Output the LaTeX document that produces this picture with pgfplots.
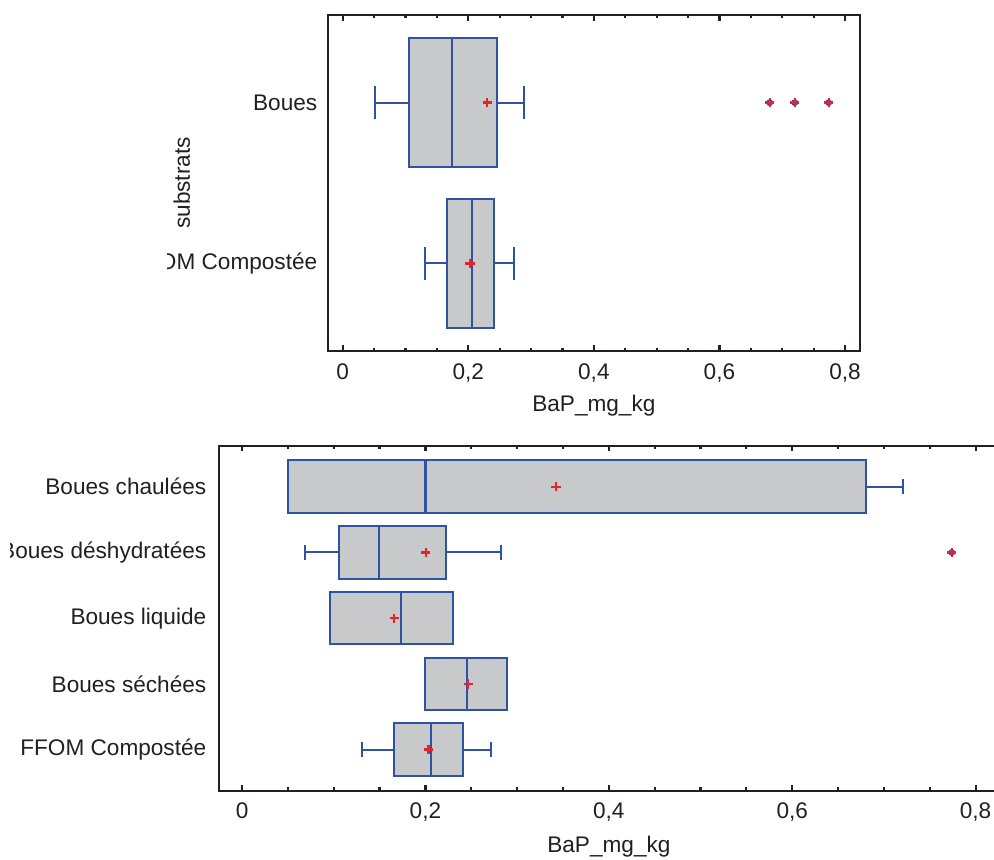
\documentclass[border=0pt]{standalone}
\usepackage{fontspec}
\setmainfont{Liberation Sans}
\usepackage{pgfplots}
\pgfplotsset{compat=1.18}
\usepgfplotslibrary{statistics}
\definecolor{bblue}{HTML}{2E53A4}
\definecolor{bgray}{HTML}{C8C9CB}
\definecolor{mred}{HTML}{E8222A}
\definecolor{frame}{HTML}{231F20}
\newcommand{\lblfont}{\fontsize{11.3}{13.5}\selectfont}
\pgfplotsset{
  mystyle/.style={
    scale only axis,
    axis line style={frame, line width=1.1pt},
    tick style={frame, line width=1.1pt},
    major tick length=2.8pt, minor tick length=1.7pt,
    tick align=inside,
    xtick={0,0.2,0.4,0.6,0.8}, minor x tick num=3,
    ytick style={draw=none}, minor y tick num=0,
    xticklabel style={yshift=-2.7pt},
    /pgf/number format/.cd, use comma, fixed, precision=1, assume math mode=true, /pgfplots/.cd,
    tick label style={font=\lblfont, text=frame},
    xlabel={BaP\_mg\_kg},
    every axis x label/.style={at={(axis description cs:0.5,0)}, yshift=-27.5pt, anchor=center, font=\lblfont, text=frame},
    boxplot/draw direction=x,
    boxplot/every box/.style={draw=bblue, fill=bgray, line width=1pt},
    boxplot/every whisker/.style={draw=bblue, line width=1pt},
    boxplot/every median/.style={draw=bblue, line width=1.1pt},
  },
  outl/.style={line width=1pt, draw=bblue, mark=*, mark size=1.5pt, mark options={draw=bblue, fill=bblue, line width=0.4pt}},
  means/.style={only marks, mark=+, mark size=2.3pt, mark options={draw=mred, line width=1.15pt}},
}
\begin{document}
\begin{tikzpicture}
\useasboundingbox (0pt,0pt) rectangle (497pt,-430pt);
% ---------- top chart ----------
\begin{scope}
\clip (83.5pt,0pt) rectangle (497pt,-215pt);
\begin{axis}[mystyle,
  at={(163.85pt,-175.5pt)}, anchor=south west,
  width=266.15pt, height=168pt,
  xmin=-0.0239, xmax=0.8239, ymin=0.455, ymax=2.545,
  ytick={1,2}, yticklabels={FFOM Compostée, Boues},
  yticklabel style={xshift=-1.7pt},
  ylabel={substrats},
  every axis y label/.style={at={(axis description cs:-0.2743,0.5)}, rotate=90, anchor=center, font=\lblfont, text=frame},
  boxplot/whisker extend=0.205,
]
\addplot[outl, boxplot prepared={lower whisker=0.0514, lower quartile=0.106, median=0.174, upper quartile=0.2457, upper whisker=0.288, draw position=2, box extend=0.8}]
  coordinates {(0,0.680) (0,0.720) (0,0.774)};
\addplot[outl, boxplot prepared={lower whisker=0.131, lower quartile=0.1656, median=0.2054, upper quartile=0.2404, upper whisker=0.2722, draw position=1, box extend=0.8}]
  coordinates {};
\addplot[means] coordinates {(0.230,2) (0.2027,1) (0.680,2) (0.720,2) (0.774,2)};
\end{axis}
\end{scope}
% ---------- bottom chart ----------
\begin{scope}
\clip (5.25pt,-215pt) rectangle (497pt,-430pt);
\begin{axis}[mystyle,
  at={(109.65pt,-395.35pt)}, anchor=south west,
  width=389.6pt, height=172.5pt,
  xmin=-0.0248, xmax=0.825, ymin=0.375, ymax=5.625,
  ytick={1,2,3,4,5},
  yticklabels={FFOM Compostée, Boues séchées, Boues liquide, Boues déshydratées, Boues chaulées},
  yticklabel style={xshift=-3pt},
  every axis x label/.style={at={(axis description cs:0.5,0)}, yshift=-28pt, anchor=center, font=\lblfont, text=frame},
  boxplot/whisker extend=0.23,
]
\addplot[outl, boxplot prepared={lower whisker=0.0498, lower quartile=0.0498, median=0.200, upper quartile=0.680, upper whisker=0.7205, draw position=5, box extend=0.8}]
  coordinates {};
\addplot[outl, boxplot prepared={lower whisker=0.069, lower quartile=0.106, median=0.1497, upper quartile=0.2221, upper whisker=0.2824, draw position=4, box extend=0.8}]
  coordinates {(0,0.774)};
\addplot[outl, boxplot prepared={lower whisker=0.096, lower quartile=0.096, median=0.1734, upper quartile=0.2297, upper whisker=0.2297, draw position=3, box extend=0.8}]
  coordinates {};
\addplot[outl, boxplot prepared={lower whisker=0.200, lower quartile=0.200, median=0.2457, upper quartile=0.2886, upper whisker=0.2886, draw position=2, box extend=0.8}]
  coordinates {};
\addplot[outl, boxplot prepared={lower whisker=0.1305, lower quartile=0.1654, median=0.2058, upper quartile=0.2407, upper whisker=0.2719, draw position=1, box extend=0.8}]
  coordinates {};
\addplot[means] coordinates {(0.3424,5) (0.2003,4) (0.166,3) (0.2468,2) (0.2032,1) (0.774,4)};
\end{axis}
\end{scope}
\end{tikzpicture}
\end{document}
